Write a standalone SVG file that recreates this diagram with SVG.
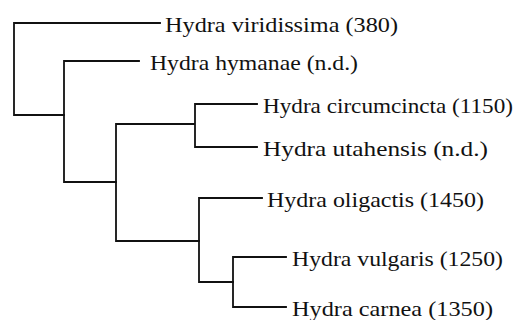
<svg xmlns="http://www.w3.org/2000/svg" width="526" height="320" viewBox="0 0 526 320">
<style>
.e{fill:none;stroke:#111;stroke-width:1.8;stroke-linecap:square}
.t{font-family:"Liberation Serif","Times New Roman",serif;font-size:21px;fill:#111}
</style>
<rect width="526" height="320" fill="#fff"/>
<g id="connectors">
<path class="e" d="M160,23H14V115H64"/>
<path class="e" d="M139,61H64V182H116"/>
<path class="e" d="M257,104H195V147H257M195,124H116V241H199"/>
<path class="e" d="M262,198H199V282H233"/>
<path class="e" d="M286,257H233V307H286"/>
</g>
<g id="viridissima"><text class="t" x="165" y="31.5" textLength="233" lengthAdjust="spacingAndGlyphs">Hydra viridissima (380)</text></g>
<g id="hymanae"><text class="t" x="150" y="69.5" textLength="208" lengthAdjust="spacingAndGlyphs">Hydra hymanae (n.d.)</text></g>
<g id="circumcincta"><text class="t" x="263" y="112.5" textLength="250" lengthAdjust="spacingAndGlyphs">Hydra circumcincta (1150)</text></g>
<g id="utahensis"><text class="t" x="263" y="155.5" textLength="225" lengthAdjust="spacingAndGlyphs">Hydra utahensis (n.d.)</text></g>
<g id="oligactis"><text class="t" x="267" y="206.5" textLength="217" lengthAdjust="spacingAndGlyphs">Hydra oligactis (1450)</text></g>
<g id="vulgaris"><text class="t" x="292" y="265.5" textLength="211" lengthAdjust="spacingAndGlyphs">Hydra vulgaris (1250)</text></g>
<g id="carnea"><text class="t" x="292" y="315.5" textLength="201" lengthAdjust="spacingAndGlyphs">Hydra carnea (1350)</text></g>
</svg>
